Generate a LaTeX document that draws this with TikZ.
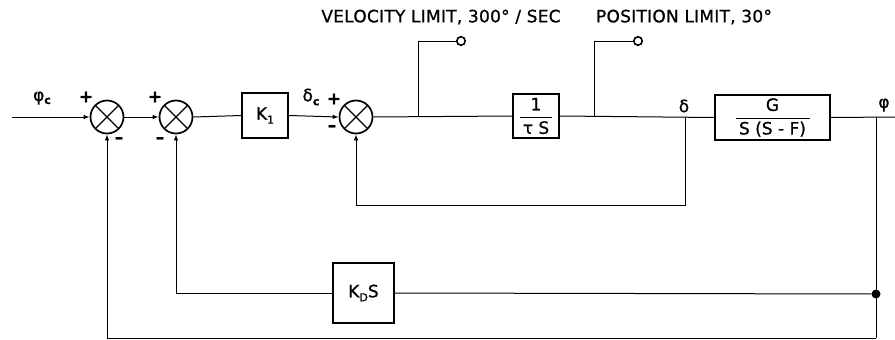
\documentclass[tikz,border=0pt]{standalone}
\usepackage{fontspec}
\setmainfont{DejaVu Sans}[FakeBold=0.8]
\usetikzlibrary{arrows.meta}
\newcommand{\fs}{\fontsize{17}{19}\selectfont}
\newcommand{\fsub}{\fontsize{11}{12}\selectfont}
\begin{document}
\begin{tikzpicture}[x=1pt,y=-1pt,
  every node/.style={font=\fs},
  sumj/.style={circle,draw,line width=1.7pt,minimum size=33pt,inner sep=0pt,
    path picture={\draw[line width=1.3pt]
      (path picture bounding box.north west) -- (path picture bounding box.south east)
      (path picture bounding box.north east) -- (path picture bounding box.south west);}},
  blk/.style={draw,line width=1.6pt,inner sep=0pt},
  lim/.style={circle,draw,line width=1.6pt,minimum size=8.5pt,inner sep=0pt},
  sig/.style={line width=1pt},
  arr/.style={sig,-{Latex[length=6pt,width=4.5pt]}},
  sgn/.style={font=\fs\bfseries,inner sep=0pt},
  lbl/.style={inner sep=0pt},
  top/.style={inner sep=0pt,font=\fs\addfontfeatures{LetterSpace=1.5}}
]
\useasboundingbox (0,0) rectangle (895,340);

% summing junctions
\node[sumj] (s1) at (107,117) {};
\node[sumj] (s2) at (176,117) {};
\node[sumj] (s3) at (356,117) {};

% blocks
\node[blk,minimum width=46pt,minimum height=45pt] (k1) at (265,115.5) {K\raisebox{-4pt}{\fsub 1}};
\node[blk,minimum width=46pt,minimum height=44pt] (rs) at (536,116)
  {$\displaystyle\frac{\makebox[32pt]{\fs 1}}{\makebox[32pt]{\fs τ S}}$};
\node[blk,minimum width=115pt,minimum height=45pt] (g) at (772.5,117.5)
  {$\displaystyle\frac{\makebox[74pt]{\fs G}}{\makebox[74pt]{\fs S (S - F)}}$};
\node[blk,minimum width=61pt,minimum height=60pt] (kd) at (363.5,293) {K\raisebox{-4pt}{\fsub D}S};

% limiters
\node[lim] (vc) at (461,41) {};
\node[lim] (pc) at (638,41) {};
\coordinate (vb) at (418,117);
\coordinate (pb) at (594,117);

% coordinates
\coordinate (in) at (12,117);
\coordinate (d) at (685,117);
\coordinate (d2) at (685,205);
\coordinate (o) at (876,117);
\coordinate (ob) at (876,338);
\coordinate (out) at (895,117);
\node[circle,fill,minimum size=9pt,inner sep=0pt] (dot) at (876,294) {};

% forward path
\draw[arr] (in) -- (s1.west);
\draw[arr] (s1.east) -- (s2.west);
\draw[sig] (s2.east) -- (k1.west);
\draw[arr] (k1.east) -- (s3.west);
\draw[sig] (s3.east) -- (rs.west);
\draw[sig] (rs.east) -- (g.west);
\draw[sig] (g.east) -- (out);

% limiters
\draw[sig] (vb) |- (vc.west);
\draw[sig] (pb) |- (pc.west);

% inner loop
\draw[arr] (d) -- (d2) -| (s3.south);

% outer loops
\draw[sig] (o) -- (ob);
\draw[sig] (dot) -- (kd.east);
\draw[arr] (kd.west) -| (s2.south);
\draw[arr] (ob) -| (s1.south);

% signs
\node[sgn] (p1) at (86,97) {+};
\node[sgn] (m1) at (119,140) {–};
\node[sgn] (p2) at (155,97) {+};
\node[sgn] (m2) at (160,140) {–};
\node[sgn] (p3) at (334,99) {+};
\node[sgn] (m3) at (332,128) {–};

% signal labels
\node[lbl] (phic) at (42,98) {φ\raisebox{-3pt}{\fsub\bfseries c}};
\node[lbl] (dc) at (311,97) {δ\raisebox{-4pt}{\fsub\bfseries c}};
\node[lbl] (dl) at (684,106) {δ};
\node[lbl] (phl) at (884,105) {φ};

% top labels
\node[top] (vl) at (441,17) {VELOCITY LIMIT, 300° / SEC};
\node[top] (pl) at (684,17) {POSITION LIMIT, 30°};
\end{tikzpicture}
\end{document}
